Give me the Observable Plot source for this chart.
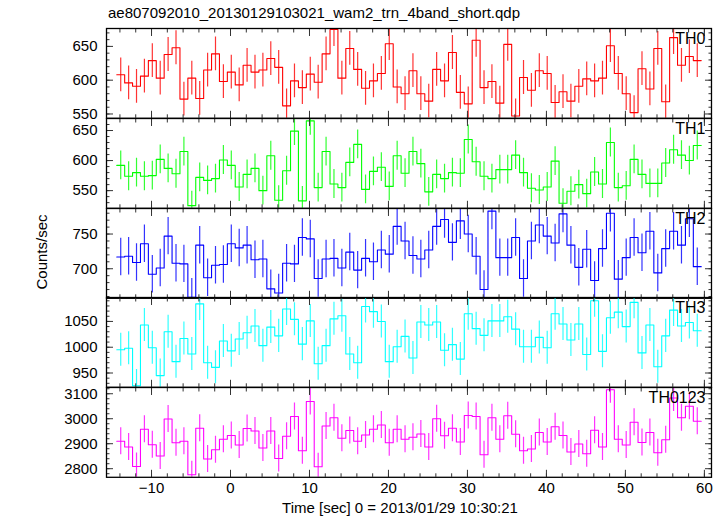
<!DOCTYPE html>
<html><head><meta charset="utf-8">
<script src="https://cdn.jsdelivr.net/npm/d3@7"></script>
<script src="https://cdn.jsdelivr.net/npm/@observablehq/plot@0.6"></script>
<style>
body{margin:0;background:#fff;}
#chart{position:relative;width:725px;height:516px;font-family:"Liberation Sans",Arial,Helvetica,sans-serif;color:#000;overflow:hidden;background:#fff;}
#chart svg{position:absolute;left:0;}
#title{position:absolute;left:108px;top:3px;font-size:15px;line-height:20px;white-space:nowrap;}
#ylabel{position:absolute;left:-58px;top:242px;width:200px;text-align:center;font-size:15px;line-height:20px;transform:rotate(-90deg);}
#xlabel{position:absolute;left:200px;top:500px;width:400px;text-align:center;font-size:15px;line-height:16px;white-space:nowrap;}
</style></head><body><div id="chart"></div>
<script>
const titleText = "ae807092010_20130129103021_wam2_trn_4band_short.qdp";
const xLabelText = "Time [sec] 0 = 2013/01/29 10:30:21";
const yLabelText = "Counts/sec";

const binStart = -13.9;   // centre of first 1-s bin
const binWidth = 1;

const panelNames = ["TH0", "TH1", "TH2", "TH3", "TH0123"];
const panelColors = ["#ff0000", "#00ff00", "#0000ff", "#00ffff", "#ff00ff"];

const th0 = [608,596,591,606,629,603,638,648,572,603,573,615,639,598,612,593,622,612,615,632,619,562,599,589,609,597,639,675,603,647,616,588,599,610,654,590,580,614,580,569,616,599,641,582,565,659,589,598,566,653,547,604,585,614,610,567,583,569,591,602,599,603,651,610,580,552,617,587,647,568,663,622,635,629];
const th1 = [592,574,580,574,575,602,587,578,615,525,572,567,570,601,592,556,577,587,550,608,534,583,649,533,666,555,615,561,555,597,627,552,582,589,557,608,579,615,595,548,577,570,580,579,635,598,574,570,585,585,609,580,554,551,556,599,529,549,560,545,581,561,630,555,558,602,577,562,562,596,618,609,600,625];
const th2 = [717,718,709,736,692,701,747,708,707,659,734,687,705,706,736,730,734,713,714,671,665,708,707,745,743,686,714,715,701,724,698,715,710,727,721,761,740,719,714,727,761,771,738,769,750,718,670,783,716,716,745,686,740,763,747,737,779,734,702,728,683,729,780,685,716,745,723,754,694,729,754,734,772,703];
const th3 = [995,998,925,1043,999,945,1030,972,1017,987,1084,970,961,1012,993,1016,1028,1041,1003,1039,1022,1074,1054,1006,1051,968,1003,1055,1061,987,970,1079,1069,1050,972,1001,1021,979,1049,1043,1049,994,1005,977,1065,1036,1023,1051,1051,1059,1035,1001,1001,1019,999,1065,1045,1014,1045,986,1090,992,1057,1068,1040,1087,989,1043,962,1022,1072,1041,1048,1032];
const th0123 = [2910,2887,2809,2958,2896,2851,2999,2904,2910,2776,2962,2839,2876,2918,2933,2895,2961,2951,2883,2951,2841,2930,3009,2872,3069,2808,2971,3004,2922,2953,2910,2935,2958,2975,2904,2958,2918,2926,2939,2887,3000,2932,2962,2907,3013,3009,2856,3004,2918,3012,2938,2872,2879,2945,2907,2968,2933,2867,2899,2860,2954,2887,3116,2918,2895,2986,2905,2945,2864,2916,3083,3004,3050,2990];
const panelValues = [th0, th1, th2, th3, th0123];
const panelErrors = [25, 24, 27, 32, 54];   // typical 1-sigma error per bin

const xDomain = [-15.7, 60.9];
const xMajorTicks = [-10, 0, 10, 20, 30, 40, 50, 60];
const xMinorTicks = [-14,-12,-10,-8,-6,-4,-2,0,2,4,6,8,10,12,14,16,18,20,22,24,26,28,30,32,34,36,38,40,42,44,46,48,50,52,54,56,58,60];
const yDomains = [[543.6, 676.5], [520.6, 670], [657.4, 786.8], [922.3, 1096.4], [2765.6, 3125]];
const yLabelTicks = [[550, 600, 650], [550, 600, 650], [700, 750], [950, 1000, 1050], [2800, 2900, 3000, 3100]];
const yMinorStep = [10, 10, 10, 10, 20];

const panelTops = [28, 117.8, 207.6, 297.4, 387.2];
const panelHeight = 89.8;

const chart = document.getElementById("chart");
const fmtX = d => d < 0 ? "\u2212" + (-d) : String(d);
const fmtY = d => String(d);

panelNames.forEach((name, k) => {
  const vals = panelValues[k];
  const err = panelErrors[k];
  const color = panelColors[k];
  const bins = vals.map((v, i) => ({t: binStart + i * binWidth, v, lo: v - err, hi: v + err}));
  const steps = bins.flatMap(b => [{x: b.t - binWidth / 2, y: b.v}, {x: b.t + binWidth / 2, y: b.v}]);
  const [lo, hi] = yDomains[k];
  const st = yMinorStep[k];
  const yMinor = d3.range(Math.ceil(lo / st) * st, hi, st);
  const last = k === panelNames.length - 1;
  const mt = 5, mb = last ? 30 : 5;
  const tickStroke = "#333";
  const marks = [
    Plot.ruleX(bins, {x: "t", y1: "lo", y2: "hi", stroke: color, strokeWidth: 1.2, strokeOpacity: 0.8, clip: true}),
    Plot.line(steps, {x: "x", y: "y", stroke: color, strokeWidth: 1.1, clip: true}),
    Plot.axisX({anchor: "bottom", ticks: xMinorTicks, tickSize: -3.5, tickFormat: () => "", stroke: tickStroke, label: null}),
    Plot.axisX({anchor: "bottom", ticks: xMajorTicks, tickSize: -7, tickFormat: () => "", stroke: tickStroke, label: null}),
    Plot.axisX({anchor: "top", ticks: xMinorTicks, tickSize: -3.5, tickFormat: () => "", stroke: tickStroke, label: null}),
    Plot.axisX({anchor: "top", ticks: xMajorTicks, tickSize: -7, tickFormat: () => "", stroke: tickStroke, label: null}),
    Plot.axisY({anchor: "left", ticks: yMinor, tickSize: -3.5, tickFormat: () => "", stroke: tickStroke, label: null}),
    Plot.axisY({anchor: "left", ticks: yLabelTicks[k], tickSize: -7, tickFormat: () => "", stroke: tickStroke, label: null}),
    Plot.axisY({anchor: "right", ticks: yMinor, tickSize: -3.5, tickFormat: () => "", stroke: tickStroke, label: null}),
    Plot.axisY({anchor: "right", ticks: yLabelTicks[k], tickSize: -7, tickFormat: () => "", stroke: tickStroke, label: null}),
    Plot.axisY({anchor: "left", ticks: yLabelTicks[k], tickSize: 0, tickPadding: 9, tickFormat: fmtY, fontSize: 15, label: null}),
    Plot.frame({stroke: "#000", strokeWidth: 1.3}),
    Plot.text([name], {text: d => d, frameAnchor: "top-right", dx: -6, dy: 4, fontSize: 16, fill: "#000"})
  ];
  if (last) {
    marks.push(Plot.axisX({anchor: "bottom", ticks: xMajorTicks, tickSize: 0, tickPadding: 5, tickFormat: fmtX, fontSize: 15, label: null}));
  }
  const svg = Plot.plot({
    width: 725,
    height: panelHeight + mt + mb,
    marginTop: mt, marginBottom: mb, marginLeft: 106, marginRight: 14,
    x: {domain: xDomain, label: null},
    y: {domain: yDomains[k], label: null},
    style: {fontFamily: '"Liberation Sans", Arial, Helvetica, sans-serif', fontSize: "15px", background: "transparent", overflow: "visible", color: "#000"},
    marks
  });
  svg.style.top = (panelTops[k] - mt) + "px";
  chart.appendChild(svg);
});

const t = document.createElement("div"); t.id = "title"; t.textContent = titleText; chart.appendChild(t);
const yl = document.createElement("div"); yl.id = "ylabel"; yl.textContent = yLabelText; chart.appendChild(yl);
const xl = document.createElement("div"); xl.id = "xlabel"; xl.textContent = xLabelText; chart.appendChild(xl);
</script>
</body></html>
